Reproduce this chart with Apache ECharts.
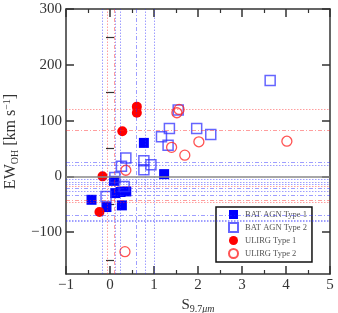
<!DOCTYPE html>
<html><head><meta charset="utf-8">
<script src="https://cdn.jsdelivr.net/npm/echarts@6/dist/echarts.min.js"></script>
<style>html,body{margin:0;padding:0;background:#fff}#c{width:338px;height:313px}</style>
</head><body><div id="c"></div>
<script>
// Data
const batType1 = [[0.77,60],[1.23,4],[0.09,-8],[0.12,-30],[0.24,-28],[0.37,-27],[-0.42,-42],[-0.08,-55],[0.27,-52]];
const batType2 = [[3.64,172],[1.55,119],[1.35,86],[1.17,71],[1.32,56],[1.97,86],[2.29,75],[0.36,33],[0.26,18],[0.77,28],[0.77,12],[0.93,21],[0.11,-2],[0.32,-18],[-0.09,-36]];
const ulirgType1 = [[0.61,125],[0.61,114],[0.28,81],[-0.17,0],[-0.24,-64]];
const ulirgType2 = [[1.52,114],[1.57,120],[1.40,52],[1.70,38],[2.02,62],[4.02,63],[0.36,11],[0.34,-135]];
const blueDottedX = [-0.17, 0.12, 0.24, 0.79, 1.01];
const blueDashDotX = [0.6];
const redDottedX = [-0.06];
const redDashDotX = [0.1];
const blueDottedY = [20, -5, -10, -14, -26, -79, -81];
const blueDashDotY = [25, -22, -33, -70];
const redDottedY = [121, -18, -46];
const redDashDotY = [83, -42];
const xTicks = [-1,0,1,2,3,4,5];
const yTicks = [-100,0,100,200,300];
const yMinorTicks = [-150,-50,50,150,250];

const FONT = '"Liberation Serif","DejaVu Serif",serif';
const AX = '#333';
function mk(vals, key, color, type){
  return vals.map(v => ({[key]: v, lineStyle:{color: color, type: type, width: 1}}));
}
const BL = 'rgba(40,40,255,0.45)', RD = 'rgba(255,40,40,0.45)';
const DOT = [1.5,1.5], DD = [4,2,1,2];
const refLines = [].concat(
  mk(blueDottedX,'xAxis',BL,DOT), mk(blueDashDotX,'xAxis',BL,DD),
  mk(redDottedX,'xAxis',RD,DOT), mk(redDashDotX,'xAxis',RD,DD),
  mk(blueDottedY,'yAxis',BL,DOT), mk(blueDashDotY,'yAxis',BL,DD),
  mk(redDottedY,'yAxis',RD,DOT), mk(redDashDotY,'yAxis',RD,DD),
  [{yAxis:0, lineStyle:{color:'#888', type:'solid', width:1.5}}]
);

const minus = v => String(v).replace('-', '\u2212');
const baseX = {type:'value', min:-1, max:5, interval:1, splitLine:{show:false},
  axisLine:{onZero:false, lineStyle:{color:AX, width:1.5}},
  axisTick:{inside:true, length:8, lineStyle:{color:AX, width:1.5}},
  minorTick:{show:true, splitNumber:2, length:4, lineStyle:{color:AX, width:1.2}}};
const baseY = {type:'value', min:-175, max:300, splitLine:{show:false},
  axisLine:{onZero:false, lineStyle:{color:AX, width:1.5}}};

const option = {
  animation:false,
  grid:{left:66, right:8, top:9, bottom:39, containLabel:false, outerBoundsMode:'none'},
  xAxis:[
    Object.assign({}, baseX, {position:'bottom',
      axisLabel:{formatter:minus, fontFamily:FONT, fontSize:15, color:'#333', margin:4},
      name:'{a|S}{b|9.7}{c|μm}', nameLocation:'middle', nameGap:14,
      nameTextStyle:{rich:{
        a:{fontFamily:FONT, fontSize:15, color:'#333', verticalAlign:'top'},
        b:{fontFamily:FONT, fontSize:10, color:'#333', verticalAlign:'bottom', padding:[6,0,0,0]},
        c:{fontFamily:FONT, fontSize:10, fontStyle:'italic', color:'#333', verticalAlign:'bottom', padding:[6,0,0,0]}}}}),
    Object.assign({}, baseX, {position:'top', axisLabel:{show:false}})
  ],
  yAxis:[
    Object.assign({}, baseY, {position:'left',
      axisLabel:{customValues:yTicks, formatter:minus, fontFamily:FONT, fontSize:15, color:'#333', margin:4},
      axisTick:{customValues:yTicks, inside:true, length:8, lineStyle:{color:AX, width:1.5}},
      name:'{a|EW}{b|OH}{a| [km s}{c|−1}{a|]}', nameLocation:'middle', nameGap:42,
      nameTextStyle:{rich:{
        a:{fontFamily:FONT, fontSize:16, color:'#333'},
        b:{fontFamily:FONT, fontSize:10, color:'#333', padding:[8,0,0,0]},
        c:{fontFamily:FONT, fontSize:10, color:'#333', padding:[0,0,8,0]}}}}),
    Object.assign({}, baseY, {position:'right', axisLabel:{show:false},
      axisTick:{customValues:yTicks, inside:true, length:8, lineStyle:{color:AX, width:1.5}}}),
    Object.assign({}, baseY, {position:'left', axisLabel:{show:false}, axisLine:{show:false},
      axisTick:{customValues:yMinorTicks, inside:true, length:4, lineStyle:{color:AX, width:1.2}}}),
    Object.assign({}, baseY, {position:'right', axisLabel:{show:false}, axisLine:{show:false},
      axisTick:{customValues:yMinorTicks, inside:true, length:4, lineStyle:{color:AX, width:1.2}}})
  ],
  legend:{left:216, top:207, orient:'vertical', itemGap:3, itemWidth:9, itemHeight:9,
    padding:[3,5,3,12], backgroundColor:'#fff', borderColor:'#111', borderWidth:1.5, borderRadius:0,
    textStyle:{fontFamily:FONT, fontSize:8.5, color:'#555', padding:[0,0,0,2]},
    data:['BAT AGN Type 1','BAT AGN Type 2','ULIRG Type 1','ULIRG Type 2']},
  series:[
    {type:'scatter', data:[], silent:true, z:1,
      markLine:{silent:true, symbol:['none','none'], label:{show:false}, animation:false, data:refLines}},
    {name:'BAT AGN Type 1', type:'scatter', data:batType1, symbol:'rect', symbolSize:10, z:3,
      itemStyle:{color:'#0000ff', opacity:1}},
    {name:'BAT AGN Type 2', type:'scatter', data:batType2, symbol:'rect', symbolSize:10, z:3,
      itemStyle:{color:'rgba(0,0,0,0)', borderColor:'rgba(50,50,255,0.75)', borderWidth:1.5, opacity:1}},
    {name:'ULIRG Type 1', type:'scatter', data:ulirgType1, symbol:'circle', symbolSize:10, z:3,
      itemStyle:{color:'#ff0000', opacity:1}},
    {name:'ULIRG Type 2', type:'scatter', data:ulirgType2, symbol:'circle', symbolSize:10, z:3,
      itemStyle:{color:'rgba(0,0,0,0)', borderColor:'rgba(255,40,40,0.8)', borderWidth:1.3, opacity:1}}
  ]
};
const chart = echarts.init(document.getElementById('c'), null, {renderer:'canvas'});
chart.setOption(option);
</script></body></html>
